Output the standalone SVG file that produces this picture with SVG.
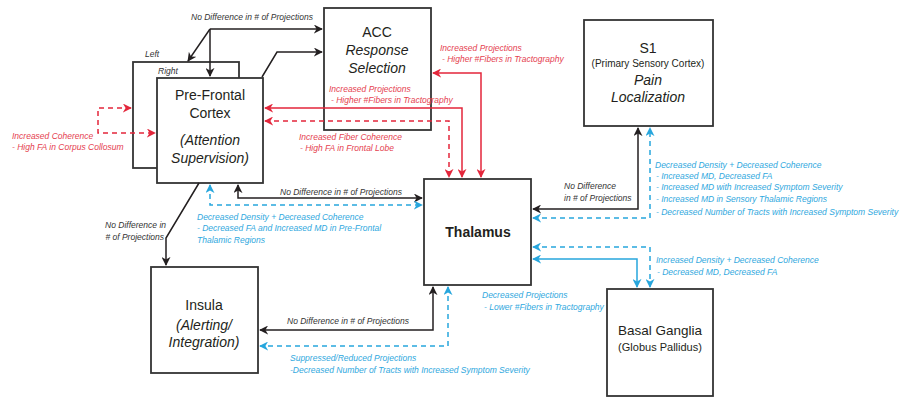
<svg xmlns="http://www.w3.org/2000/svg" width="903" height="399" viewBox="0 0 903 399">
<defs>
<marker id="ak" viewBox="0 0 10 10" refX="9" refY="5" markerWidth="9" markerHeight="9" markerUnits="userSpaceOnUse" orient="auto-start-reverse"><path d="M0,0 L10,5 L0,10 L3,5 z" fill="#231f20"/></marker>
<marker id="ar" viewBox="0 0 10 10" refX="9" refY="5" markerWidth="9" markerHeight="9" markerUnits="userSpaceOnUse" orient="auto-start-reverse"><path d="M0,0 L10,5 L0,10 L3,5 z" fill="#e3263b"/></marker>
<marker id="ab" viewBox="0 0 10 10" refX="9" refY="5" markerWidth="9" markerHeight="9" markerUnits="userSpaceOnUse" orient="auto-start-reverse"><path d="M0,0 L10,5 L0,10 L3,5 z" fill="#27a6dd"/></marker>
</defs>
<style>
.box{fill:#fff;stroke:#333;stroke-width:1.8}
.t{font-family:"Liberation Sans",Arial,sans-serif;fill:#231f20;text-anchor:middle}
.ti{font-style:italic}
.lk{font-family:"Liberation Sans",Arial,sans-serif;font-style:italic;font-size:8.5px;fill:#333}
.lr{font-family:"Liberation Sans",Arial,sans-serif;font-style:italic;font-size:8.5px;fill:#e5414f}
.lb{font-family:"Liberation Sans",Arial,sans-serif;font-style:italic;font-size:8.5px;fill:#2fa8de}
.ck{fill:none;stroke:#231f20;stroke-width:1.5}
.cr{fill:none;stroke:#e3263b;stroke-width:1.5}
.cb{fill:none;stroke:#27a6dd;stroke-width:1.5}
.d{stroke-dasharray:5 4}
</style>
<rect width="903" height="399" fill="#fff"/>

<g id="pfc-left">
<rect class="box" x="133" y="62" width="106" height="106"/>
<text class="lk" x="145" y="57">Left</text>
</g>
<g id="pfc">
<rect class="box" x="157" y="78" width="106" height="105"/>
<text class="lk" x="158" y="74">Right</text>
<text class="t" x="210" y="100" font-size="14">Pre-Frontal</text>
<text class="t" x="210" y="118" font-size="14">Cortex</text>
<text class="t ti" x="210" y="145" font-size="14">(Attention</text>
<text class="t ti" x="210" y="163" font-size="14">Supervision)</text>
</g>
<g id="acc">
<rect class="box" x="324" y="8" width="107" height="122"/>
<text class="t" x="377" y="37" font-size="14">ACC</text>
<text class="t ti" x="377" y="55" font-size="14">Response</text>
<text class="t ti" x="377" y="73" font-size="14">Selection</text>
</g>
<g id="s1">
<rect class="box" x="584" y="20" width="129" height="106"/>
<text class="t" x="648" y="53" font-size="14">S1</text>
<text class="t" x="648" y="67" font-size="10">(Primary Sensory Cortex)</text>
<text class="t ti" x="648" y="85" font-size="14">Pain</text>
<text class="t ti" x="648" y="102" font-size="14">Localization</text>
</g>
<g id="thalamus">
<rect class="box" x="424" y="179" width="107" height="106"/>
<text class="t" x="478" y="237" font-size="14" font-weight="bold">Thalamus</text>
</g>
<g id="insula">
<rect class="box" x="151" y="267" width="107" height="106"/>
<text class="t" x="204" y="310" font-size="14">Insula</text>
<text class="t ti" x="204" y="330" font-size="14">(Alerting/</text>
<text class="t ti" x="204" y="347" font-size="14">Integration)</text>
</g>
<g id="basal-ganglia">
<rect class="box" x="607" y="289" width="106" height="107"/>
<text class="t" x="660" y="335" font-size="13.5">Basal Ganglia</text>
<text class="t" x="660" y="351" font-size="11">(Globus Pallidus)</text>
</g>

<g id="connectors">
<path class="ck" d="M210,29 H322" marker-end="url(#ak)"/>
<path class="ck" d="M210,29 V76" marker-end="url(#ak)"/>
<path class="ck" d="M210,29 L188,61" marker-end="url(#ak)"/>
<path class="ck" d="M262,77 L277,52 H322" marker-end="url(#ak)"/>
<text class="lk" x="191" y="20">No Difference in # of Projections</text>

<path class="cr" d="M433,73 H481 V177" marker-start="url(#ar)" marker-end="url(#ar)"/>
<path class="cr" d="M265,108 H462 V177" marker-start="url(#ar)" marker-end="url(#ar)"/>
<path class="cr d" d="M265,121 H449 V177" marker-start="url(#ar)" marker-end="url(#ar)"/>
<text class="lr" x="440" y="51">Increased Projections</text>
<text class="lr" x="442" y="62">- Higher  #Fibers in Tractography</text>
<text class="lr" x="329" y="92">Increased Projections</text>
<text class="lr" x="331" y="103">- Higher  #Fibers in Tractography</text>
<text class="lr" x="299" y="140">Increased Fiber Coherence</text>
<text class="lr" x="300" y="151">- High FA in Frontal Lobe</text>

<path class="cr d" d="M131,108 H98 V133 H155" marker-start="url(#ar)" marker-end="url(#ar)"/>
<text class="lr" x="12" y="139">Increased Coherence</text>
<text class="lr" x="12" y="150">- High FA in Corpus Collosum</text>

<path class="ck" d="M238,185 V198 H422" marker-start="url(#ak)" marker-end="url(#ak)"/>
<text class="lk" x="280" y="195">No Difference in # of Projections</text>
<path class="cb d" d="M210,185 V205 H422" marker-start="url(#ab)" marker-end="url(#ab)"/>
<text class="lb" x="197" y="220">Decreased Density + Decreased Coherence</text>
<text class="lb" x="197" y="231">- Decreased FA and Increased MD in Pre-Frontal</text>
<text class="lb" x="197" y="243">Thalamic Regions</text>

<path class="ck" d="M199,183 L166,238 V265" marker-end="url(#ak)"/>
<text class="lk" x="166" y="228" text-anchor="end">No Difference in</text>
<text class="lk" x="164" y="240" text-anchor="end"># of Projections</text>

<path class="ck" d="M433,287 V330 H260" marker-start="url(#ak)" marker-end="url(#ak)"/>
<text class="lk" x="287" y="324">No Difference in # of Projections</text>
<path class="cb d" d="M448,287 V346 H260" marker-start="url(#ab)" marker-end="url(#ab)"/>
<text class="lb" x="290" y="361">Suppressed/Reduced Projections</text>
<text class="lb" x="290" y="373">-Decreased Number of Tracts with Increased Symptom Severity</text>

<path class="ck" d="M533,209 H638 V128" marker-start="url(#ak)" marker-end="url(#ak)"/>
<text class="lk" x="564" y="189">No Difference</text>
<text class="lk" x="564" y="201">in # of Projections</text>
<path class="cb d" d="M533,218 H650 V128" marker-start="url(#ab)" marker-end="url(#ab)"/>
<text class="lb" x="655" y="168">Decreased Density + Decreased Coherence</text>
<text class="lb" x="656" y="179">- Increased MD, Decreased FA</text>
<text class="lb" x="656" y="190">- Increased MD with Increased Symptom Severity</text>
<text class="lb" x="656" y="202">- Increased MD in Sensory Thalamic Regions</text>
<text class="lb" x="656" y="215">- Decreased Number of Tracts with Increased Symptom Severity</text>

<path class="cb d" d="M533,247 H650 V287" marker-start="url(#ab)" marker-end="url(#ab)"/>
<path class="cb" d="M533,259 H637 V287" marker-start="url(#ab)" marker-end="url(#ab)"/>
<text class="lb" x="656" y="263">Increased Density + Decreased Coherence</text>
<text class="lb" x="657" y="275">- Decreased MD, Decreased FA</text>
<text class="lb" x="482" y="298">Decreased Projections</text>
<text class="lb" x="484" y="310">- Lower #Fibers in Tractography</text>
</g>
</svg>
